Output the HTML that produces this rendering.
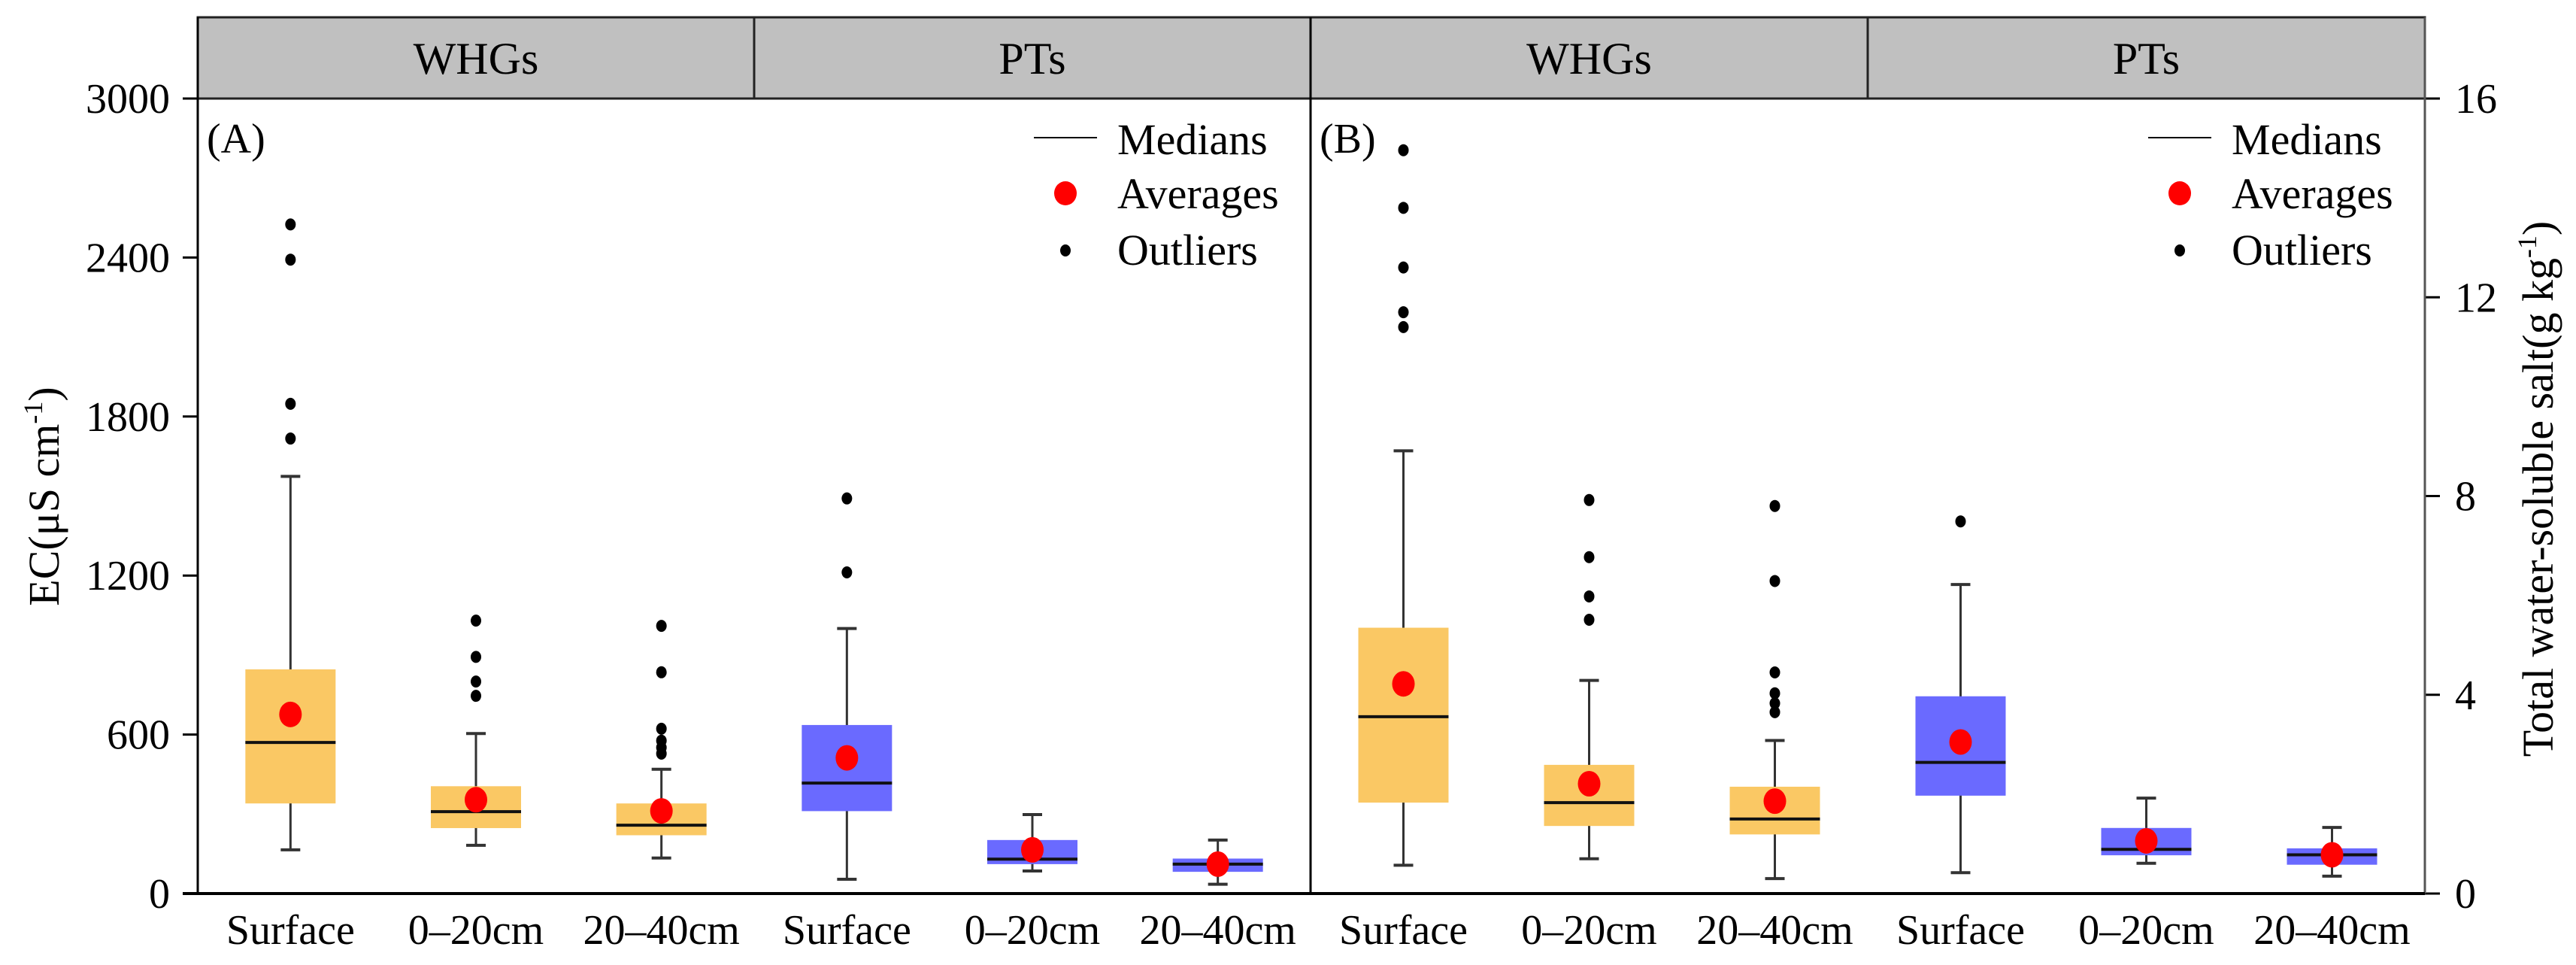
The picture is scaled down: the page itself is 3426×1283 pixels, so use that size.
<!DOCTYPE html>
<html><head><meta charset="utf-8"><style>
html,body{margin:0;padding:0;background:#fff}
svg{display:block}
text{font-family:"Liberation Serif",serif;fill:#000}
</style></head><body>
<svg id="chart" width="3426" height="1283" viewBox="0 0 3426 1283" xmlns="http://www.w3.org/2000/svg" style="position:absolute;left:0;top:0">
<g id="layer"></g>
<text transform="translate(78,660) rotate(-90)" font-size="58" text-anchor="middle">EC(μS cm<tspan font-size="36" dy="-22">-1</tspan><tspan dy="22">)</tspan></text>
<text transform="translate(3395,650) rotate(-90)" font-size="58" text-anchor="middle">Total water-soluble salt(g kg<tspan font-size="36" dy="-22">-1</tspan><tspan dy="22">)</tspan></text>
</svg>
<script>
const categories = ["Surface","0–20cm","20–40cm","Surface","0–20cm","20–40cm"];
const groups = ["WHGs","PTs"];
// Panel A: EC (µS cm-1)
const ecWhiskerLow = [165,182,134,54,85,35];
const ecQ1 = [340,247,220,311,111,82];
const ecMedian = [570,309,258,417,130,111];
const ecQ3 = [846,405,340,636,202,132];
const ecWhiskerHigh = [1574,604,469,1000,298,202];
const ecMean = [676,354,312,512,165,111];
const ecOutliers = [[2525,2392,1848,1717],[1030,893,800,746],[1010,835,622,577,551,528],[1491,1212],[],[]];
const ecTicks = [0,600,1200,1800,2400,3000];
// Panel B: total water-soluble salt (g kg-1)
const saltWhiskerLow = [0.57,0.70,0.30,0.42,0.61,0.35];
const saltQ1 = [1.83,1.36,1.19,1.97,0.77,0.58];
const saltMedian = [3.56,1.83,1.50,2.64,0.89,0.78];
const saltQ3 = [5.35,2.59,2.15,3.97,1.32,0.91];
const saltWhiskerHigh = [8.91,4.29,3.08,6.22,1.92,1.33];
const saltMean = [4.22,2.21,1.86,3.05,1.06,0.78];
const saltOutliers = [[14.96,13.8,12.6,11.7,11.4],[7.92,6.77,5.98,5.51],[7.80,6.29,4.45,4.03,3.83,3.65],[7.49],[],[]];
const saltTicks = [0,4,8,12,16];

const NS="http://www.w3.org/2000/svg";
const layer=document.getElementById('layer');
function el(tag,attrs,parent){const e=document.createElementNS(NS,tag);for(const k in attrs)e.setAttribute(k,attrs[k]);(parent||layer).appendChild(e);return e;}
const TOP=131,BOT=1188,HTOP=23;
const panels=[{x0:263,x1:1743,max:3000,data:[ecWhiskerLow,ecQ1,ecMedian,ecQ3,ecWhiskerHigh,ecMean,ecOutliers],ticks:ecTicks,label:"(A)",key:"a"},
              {x0:1743,x1:3225,max:16,data:[saltWhiskerLow,saltQ1,saltMedian,saltQ3,saltWhiskerHigh,saltMean,saltOutliers],ticks:saltTicks,label:"(B)",key:"b"}];
panels.forEach((p,pi)=>{
  const yS=v=>BOT-v/p.max*(BOT-TOP);
  const step=(p.x1-p.x0)/6;
  const xS=i=>p.x0+step*(i+0.5);
  const h=el('rect',{x:p.x0,y:HTOP,width:p.x1-p.x0,height:TOP-HTOP,fill:'#c0c0c0',stroke:'#222','stroke-width':3});
  
  
  el('line',{x1:(p.x0+p.x1)/2,y1:HTOP,x2:(p.x0+p.x1)/2,y2:TOP,stroke:'#222','stroke-width':3});
  groups.forEach((g,gi)=>{
    const t=el('text',{x:p.x0+(p.x1-p.x0)*(gi*0.5+0.25),y:98,'font-size':60,'text-anchor':'middle'});
    t.textContent=g;
    
    
  });
  const pl=el('text',{x:p.x0+12,y:203,'font-size':56});
  pl.textContent=p.label;
  
  
  const [lo,q1,md,q3,hi,mn,out]=p.data;
  for(let i=0;i<6;i++){
    const cx=xS(i), col=i<3?'#fac864':'#6a6aff';
    const g=el('g',{});
    
    
    el('line',{x1:cx,y1:yS(hi[i]),x2:cx,y2:yS(lo[i]),stroke:'#333','stroke-width':3},g);
    el('line',{x1:cx-13,y1:yS(hi[i]),x2:cx+13,y2:yS(hi[i]),stroke:'#333','stroke-width':4},g);
    el('line',{x1:cx-13,y1:yS(lo[i]),x2:cx+13,y2:yS(lo[i]),stroke:'#333','stroke-width':4},g);
    el('rect',{x:cx-60,y:yS(q3[i]),width:120,height:yS(q1[i])-yS(q3[i]),fill:col},g);
    el('line',{x1:cx-60,y1:yS(md[i]),x2:cx+60,y2:yS(md[i]),stroke:'#111','stroke-width':4},g);
    out[i].forEach(v=>{el('ellipse',{cx:cx,cy:yS(v),rx:7,ry:8,fill:'#000'},g);});
    el('ellipse',{cx:cx,cy:yS(mn[i]),rx:15,ry:17,fill:'#ff0000'},g);
    const t=el('text',{x:cx,y:1255,'font-size':56,'text-anchor':'middle'});
    t.textContent=categories[i];
    
    
  }
  const lx=p.x1-368;
  const lg=el('g',{});
  
  
  el('line',{x1:lx,y1:183,x2:lx+84,y2:183,stroke:'#000','stroke-width':2},lg);
  el('ellipse',{cx:lx+42,cy:257,rx:15,ry:16,fill:'#ff0000'},lg);
  el('ellipse',{cx:lx+42,cy:333,rx:7,ry:8,fill:'#000'},lg);
  [["Medians",205],["Averages",277],["Outliers",352]].forEach(([s,y])=>{
    const t=el('text',{x:lx+111,y:y,'font-size':58},lg);t.textContent=s;
  });
  p.ticks.forEach(v=>{
    const y=yS(v);
    if(pi===0){
      el('line',{x1:243,y1:y,x2:263,y2:y,stroke:'#000','stroke-width':3});
      const t=el('text',{x:226,y:y+19,'font-size':56,'text-anchor':'end'});t.textContent=v;
      
      
    } else {
      el('line',{x1:3225,y1:y,x2:3245,y2:y,stroke:'#000','stroke-width':3});
      const t=el('text',{x:3265,y:y+19,'font-size':56,'text-anchor':'start'});t.textContent=v;
      
      
    }
  });
});
el('line',{x1:263,y1:TOP,x2:3225,y2:TOP,stroke:'#222','stroke-width':3});
el('line',{x1:263,y1:HTOP,x2:263,y2:BOT+2,stroke:'#000','stroke-width':3});
el('line',{x1:1743,y1:HTOP,x2:1743,y2:BOT,stroke:'#000','stroke-width':3});
el('line',{x1:3225,y1:HTOP,x2:3225,y2:BOT,stroke:'#555','stroke-width':3});
el('line',{x1:243,y1:BOT,x2:3225,y2:BOT,stroke:'#000','stroke-width':4});
</script>
</body></html>
